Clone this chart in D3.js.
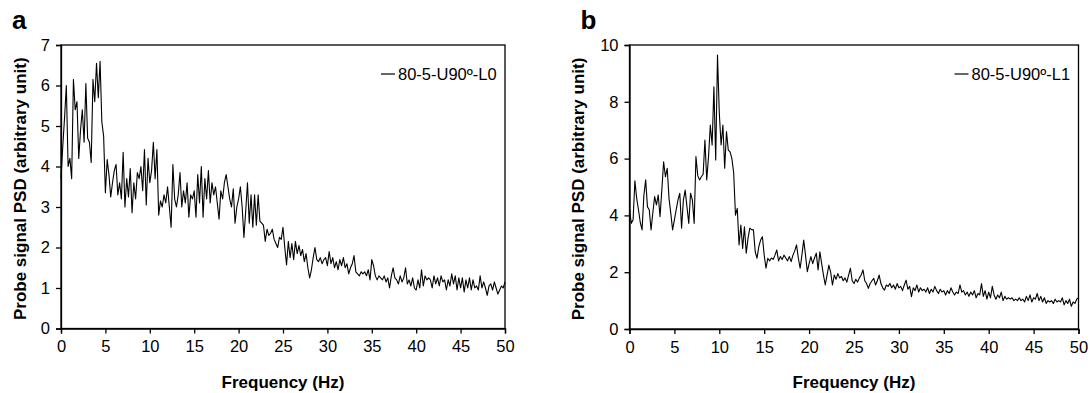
<!DOCTYPE html>
<html>
<head>
<meta charset="utf-8">
<script src="https://cdn.jsdelivr.net/npm/d3@7"></script>
<style>
  body { margin: 0; background: #fff; }
  svg text { font-family: "Liberation Sans", Arial, sans-serif; fill: #000; }
</style>
</head>
<body>
<div id="chart"></div>
<script>
// frequency step of the spectra (Hz)
const step = 0.2;

// panel a: 80-5-U90º-L0, values at 0, 0.2, 0.4 ... 50 Hz
const psdL0 = [
  3.7, 4.5, 5.2, 6.0, 4.0, 4.2, 3.7, 6.15, 5.4, 5.6,
  4.2, 4.9, 5.4, 4.6, 6.05, 4.7, 4.6, 4.1, 6.15, 5.6,
  6.55, 5.7, 6.6, 5.1, 4.75, 3.35, 4.17, 3.8, 3.25, 3.6,
  3.9, 4.05, 3.3, 3.6, 3.2, 4.35, 3.0, 3.7, 3.25, 3.95,
  2.86, 3.6, 3.2, 3.85, 3.7, 4.0, 3.4, 4.42, 3.05, 4.2,
  3.6, 3.9, 4.6, 3.7, 4.42, 2.8, 3.15, 3.0, 3.3, 3.1,
  3.5, 3.0, 2.5, 4.05, 3.2, 3.0, 3.3, 3.85, 3.0, 3.4,
  3.1, 3.6, 2.75, 3.3, 3.2, 3.4, 2.75, 3.8, 3.1, 4.0,
  2.75, 3.7, 3.2, 3.9, 3.1, 3.6, 3.3, 3.5, 3.1, 2.7,
  3.4, 3.2, 3.6, 3.8, 3.5, 3.2, 3.0, 3.45, 2.6, 3.0,
  3.2, 3.5, 3.0, 2.25, 2.9, 3.6, 2.6, 3.3, 2.5, 3.3,
  2.55, 3.3, 2.65, 2.6, 2.55, 2.15, 2.45, 2.3, 2.35, 2.45,
  2.2, 2.1, 2.0, 2.25, 2.2, 2.5, 2.0, 1.57, 2.15, 1.75,
  2.1, 1.7, 2.15, 1.85, 2.05, 1.8, 1.95, 1.65, 1.85, 1.5,
  1.25, 1.45, 1.75, 2.0, 1.7, 1.65, 1.75, 1.6, 1.7, 1.75,
  1.55, 1.9, 1.6, 1.75, 1.5, 1.65, 1.45, 1.7, 1.55, 1.75,
  1.5, 1.6, 1.35, 1.5, 1.6, 1.8, 1.4, 1.35, 1.3, 1.4,
  1.35, 1.4, 1.3, 1.45, 1.2, 1.7, 1.55, 1.3, 1.2, 1.3,
  1.25, 1.2, 1.3, 1.15, 1.25, 1.0, 1.3, 1.5, 1.25, 1.2,
  1.1, 1.3, 1.15, 1.25, 1.5, 1.1, 1.2, 1.05, 1.25, 1.0,
  0.95, 1.2, 1.0, 1.45, 1.05, 1.3, 1.2, 1.25, 1.2, 1.0,
  1.3, 1.1, 1.25, 1.05, 1.3, 1.15, 1.2, 0.95, 1.2, 1.05,
  1.35, 1.1, 1.3, 0.95, 1.25, 1.0, 1.25, 0.9, 1.2, 1.0,
  1.25, 0.95, 1.2, 1.0, 1.05, 0.95, 1.3, 1.0, 1.15, 1.0,
  0.82, 1.05, 1.1, 0.95, 1.15, 1.0, 0.85, 0.95, 1.05, 1.0,
  1.15
];

// panel b: 80-5-U90º-L1
const psdL1 = [
  4.2, 3.72, 3.85, 5.22, 4.6, 4.2, 3.75, 3.49, 4.7, 5.25,
  4.3, 4.2, 3.49, 4.1, 4.66, 4.37, 4.72, 3.95, 4.9, 5.89,
  5.36, 5.66, 4.6, 4.07, 3.49, 3.84, 4.2, 4.55, 4.78, 3.55,
  4.54, 4.89, 4.3, 3.72, 4.78, 4.55, 3.72, 6.07, 5.4, 5.25,
  5.36, 5.45, 6.65, 5.25, 6.07, 7.18, 6.48, 8.53, 5.95, 9.65,
  7.6, 6.48, 7.18, 5.66, 6.95, 6.3, 6.24, 6.0, 5.5, 4.01,
  4.25, 2.96, 3.66, 2.84, 3.6, 2.67, 3.2, 3.55, 3.5, 3.49,
  2.72, 2.49, 2.9, 3.13, 3.25, 2.6, 2.14, 2.49, 2.4, 2.5,
  2.45, 2.6, 2.78, 2.4, 2.55, 2.45, 2.6, 2.5, 2.4, 2.55,
  2.37, 2.6, 2.75, 2.96, 2.5, 2.14, 2.6, 3.13, 2.6, 2.02,
  2.3, 2.55, 2.3, 2.5, 2.67, 2.08, 2.72, 2.3, 1.9, 1.55,
  1.9, 2.25, 2.0, 1.55, 1.9, 1.75, 1.95, 1.8, 1.85, 1.7,
  1.8, 1.65, 1.9, 2.14, 1.7, 1.6, 1.75, 1.65, 1.8, 1.9,
  2.08, 1.7, 1.6, 1.43, 1.6, 1.7, 1.78, 1.55, 1.7, 1.9,
  1.6, 1.45, 1.37, 1.55, 1.5, 1.6, 1.45, 1.55, 1.4, 1.6,
  1.45, 1.5, 1.35, 1.55, 1.72, 1.4, 1.5, 1.14, 1.45, 1.35,
  1.55, 1.3, 1.45, 1.35, 1.4, 1.3, 1.45, 1.25, 1.4, 1.3,
  1.5, 1.35, 1.25, 1.4, 1.3, 1.35, 1.2, 1.35, 1.25, 1.45,
  1.3, 1.2, 1.3, 1.25, 1.55, 1.3, 1.35, 1.2, 1.3, 1.15,
  1.3, 1.2, 1.35, 1.1, 1.25, 1.2, 1.6, 1.15, 1.35, 1.05,
  1.3, 1.1, 1.5, 1.2, 1.05, 1.2, 1.1, 1.3, 1.0, 1.15,
  1.05, 1.1, 1.05, 1.1, 1.0, 1.05, 1.0, 1.1, 1.0, 1.05,
  0.95, 1.15, 1.0, 1.2, 0.95, 1.1, 1.05, 1.25, 1.0, 1.15,
  0.95, 1.1, 0.9, 1.0, 0.95, 1.0, 0.9, 1.05, 0.95, 1.0,
  0.95, 1.1, 0.85, 1.0, 0.9, 1.05, 0.8, 0.95, 0.9, 1.05,
  1.1
];

const xTicks = [0, 5, 10, 15, 20, 25, 30, 35, 40, 45, 50];
const yTicksA = [0, 1, 2, 3, 4, 5, 6, 7];
const yTicksB = [0, 2, 4, 6, 8, 10];

const panels = [
  { letter: "a", name: "80-5-U90º-L0", values: psdL0, yMax: 7, yTicks: yTicksA,
    left: 61, right: 505, top: 45, bottom: 328.5, titleOff: 35 },
  { letter: "b", name: "80-5-U90º-L1", values: psdL1, yMax: 10, yTicks: yTicksB,
    left: 629.5, right: 1078.5, top: 45, bottom: 329, titleOff: 46 }
];

const svg = d3.select("#chart").append("svg")
  .attr("width", 1092)
  .attr("height", 393);

panels.forEach(p => {
  const x = d3.scaleLinear().domain([0, 50]).range([p.left, p.right]);
  const y = d3.scaleLinear().domain([0, p.yMax]).range([p.bottom, p.top]);
  const g = svg.append("g");

  // frame
  g.append("rect")
    .attr("x", p.left).attr("y", p.top)
    .attr("width", p.right - p.left).attr("height", p.bottom - p.top)
    .attr("fill", "none").attr("stroke", "#000").attr("stroke-width", 1.3);

  const xAxis = g.append("g")
    .attr("transform", `translate(0,${p.bottom})`)
    .call(d3.axisBottom(x).tickValues(xTicks).tickFormat(d3.format("d")).tickSize(5).tickPadding(7));
  const yAxis = g.append("g")
    .attr("transform", `translate(${p.left},0)`)
    .call(d3.axisLeft(y).tickValues(p.yTicks).tickFormat(d3.format("d")).tickSize(5).tickPadding(6));

  [xAxis, yAxis].forEach(a => {
    a.select(".domain").attr("stroke-width", 1.3);
    a.selectAll(".tick line").attr("stroke-width", 1.3);
    a.selectAll("text").attr("font-size", 16.5).style("font-family", '"Liberation Sans", Arial, sans-serif');
  });

  const line = d3.line()
    .x((d, i) => x(i * step))
    .y(d => y(d));

  g.append("path")
    .datum(p.values)
    .attr("d", line)
    .attr("fill", "none")
    .attr("stroke", "#000")
    .attr("stroke-width", 1.1)
    .attr("stroke-linejoin", "round");

  // axis titles
  g.append("text")
    .attr("x", (p.left + p.right) / 2)
    .attr("y", 388)
    .attr("text-anchor", "middle")
    .attr("font-size", 17)
    .attr("font-weight", "bold")
    .text("Frequency (Hz)");

  g.append("text")
    .attr("transform", `translate(${p.left - p.titleOff},${(p.top + p.bottom) / 2 + 2}) rotate(-90)`)
    .attr("text-anchor", "middle")
    .attr("font-size", 17)
    .attr("font-weight", "bold")
    .text("Probe signal PSD (arbitrary unit)");

  // panel letter
  g.append("text")
    .attr("x", p.left - 49)
    .attr("y", 29)
    .attr("font-size", 26)
    .attr("font-weight", "bold")
    .text(p.letter);

  // legend
  const lx = p.right - 124, ly = 74;
  g.append("line")
    .attr("x1", lx).attr("x2", lx + 14)
    .attr("y1", ly).attr("y2", ly)
    .attr("stroke", "#000").attr("stroke-width", 1.2);
  g.append("text")
    .attr("x", lx + 17)
    .attr("y", ly + 6)
    .attr("font-size", 16.5)
    .text(p.name);
});
</script>
</body>
</html>
